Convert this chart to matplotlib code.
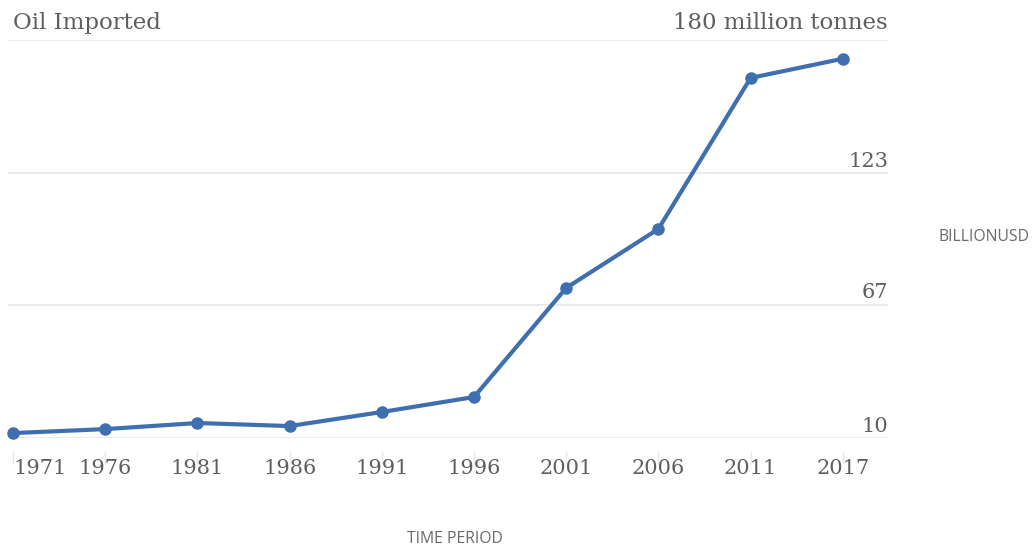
import matplotlib
matplotlib.use("Agg")
import matplotlib.pyplot as plt

# data
years = ["1971", "1976", "1981", "1986", "1991", "1996", "2001", "2006", "2011", "2017"]
oil_imported = [12.1, 13.8, 16.4, 15.1, 21.1, 27.5, 74.1, 99.3, 163.8, 172.0]
y_ticks = [10, 67, 123, 180]

line_color = "#3f6fae"
text_color = "#5e5e5e"
grid_color = "#e6e6e6"

fig = plt.figure(figsize=(10.35, 5.5), dpi=100)
ax = fig.add_axes([8 / 1035, 112 / 550, 880 / 1035, 398 / 550])
for s in ax.spines.values():
    s.set_visible(False)
ax.spines["bottom"].set_position(("outward", 9))

x = list(range(len(years)))
ax.plot(x, oil_imported, color=line_color, linewidth=3, marker="o",
        markersize=8, clip_on=False, zorder=3)

ax.set_xlim(-0.054, 9.49)
ax.set_ylim(10, 180)

# horizontal gridlines with labels sitting on top, right aligned
for v in y_ticks:
    ax.axhline(v, color=grid_color, linewidth=1.2, zorder=1)
    if v == y_ticks[-1]:
        ax.text(9.49, v + 2.5, f"{v} million tonnes", ha="right", va="bottom",
                fontsize=16.5, family="DejaVu Serif", color=text_color)
    else:
        ax.text(9.49, v + 1, str(v), ha="right", va="bottom", fontsize=15,
                family="DejaVu Serif", color=text_color)
ax.text(0.0, 182.5, "Oil Imported", ha="left", va="bottom", fontsize=16.5,
        family="DejaVu Serif", color=text_color)

ax.set_xticks(x)
ax.set_xticklabels(years, family="DejaVu Serif", fontsize=15, color=text_color)
ax.get_xticklabels()[0].set_horizontalalignment("left")
ax.tick_params(axis="x", length=9, width=1, color=grid_color, pad=-3)
ax.set_yticks([])

fig.text(984 / 1035, 1 - 237 / 550, "BILLIONUSD", ha="center", va="center",
         fontsize=11.3, family="Open Sans", color="#6a6a6a")
fig.text(455 / 1035, 1 - 539 / 550, "TIME PERIOD", ha="center", va="center",
         fontsize=11.3, family="Open Sans", color="#6a6a6a")

fig.savefig("out.png", dpi=100)
